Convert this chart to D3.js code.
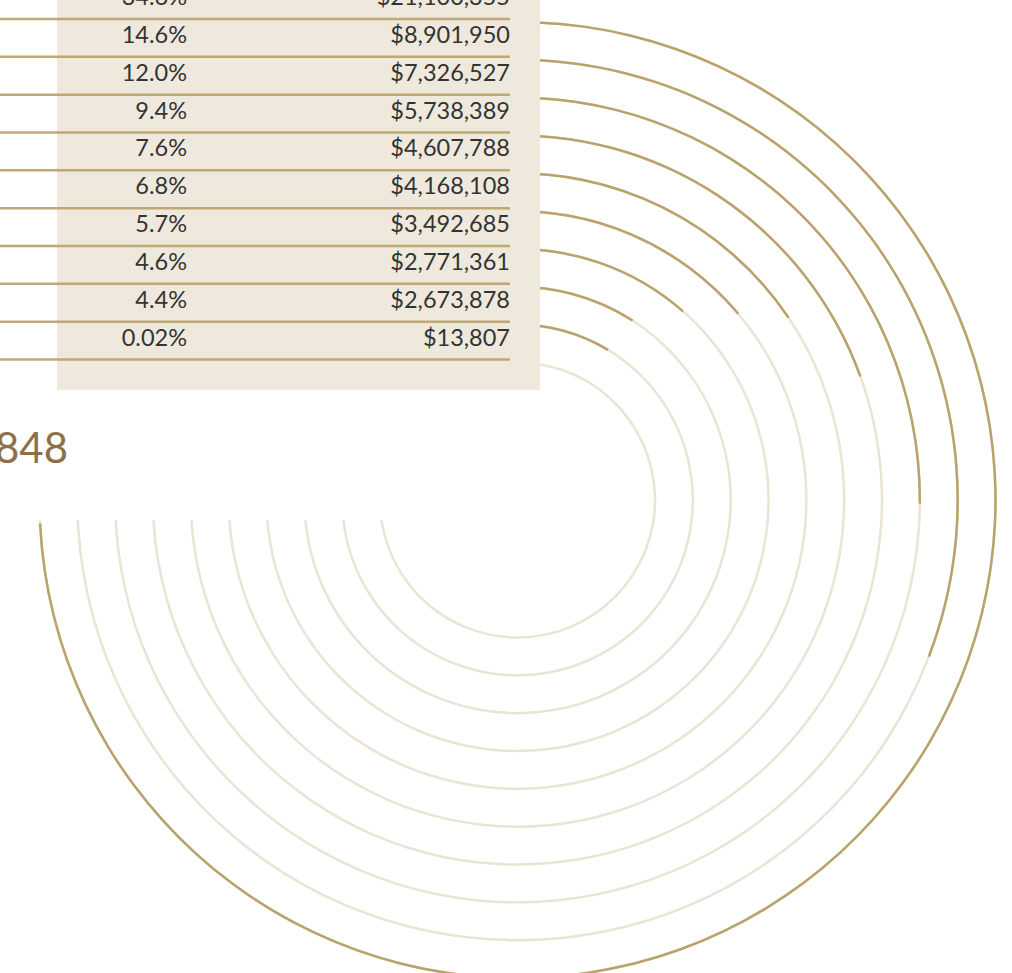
<!DOCTYPE html>
<html>
<head>
<meta charset="utf-8">
<script src="https://cdn.jsdelivr.net/npm/d3@7"></script>
<style>
  html, body { margin: 0; padding: 0; background: #ffffff; overflow: hidden; }
  svg { display: block; }
</style>
</head>
<body>
<div id="chart"></div>
<script>
// Share of the total for each line item, as printed and as numbers
const shareLabels = ["34.6%", "14.6%", "12.0%", "9.4%", "7.6%", "6.8%", "5.7%", "4.6%", "4.4%", "0.02%"];
const shareValues = [34.6, 14.6, 12.0, 9.4, 7.6, 6.8, 5.7, 4.6, 4.4, 0.02];
// Dollar amount for each line item
const amounts = [21100355, 8901950, 7326527, 5738389, 4607788, 4168108, 3492685, 2771361, 2673878, 13807];

const W = 1012, H = 973;
const cx = 517.5, cy = 500;
const deg = Math.PI / 180;

const colors = {
  gold: "#b9a26b",
  rule: "#bfa874",
  track: "#ebe4d5",
  panel: "#efe8dc",
  text: "#333333",
  title: "#8c7148"
};

const svg = d3.select("#chart").append("svg")
  .attr("width", W).attr("height", H);

// One ring per line item, largest on the outside
const ring = d3.scalePoint()
  .domain(d3.range(shareValues.length))
  .range([478, 137.5]);

// Sweep of each ring, clockwise from the top
const angle = d3.scaleLinear()
  .domain([0, d3.max(shareValues)])
  .range([-3.3 * deg, 267.2 * deg]);

const trackEnd = 272 * deg;
const half = 1.25;

const rings = svg.append("g").attr("transform", `translate(${cx},${cy})`);

const trackArc = d3.arc()
  .innerRadius((d, i) => ring(i) - half)
  .outerRadius((d, i) => ring(i) + half)
  .startAngle(angle(0))
  .endAngle(trackEnd);

const valueArc = d3.arc()
  .innerRadius((d, i) => ring(i) - half)
  .outerRadius((d, i) => ring(i) + half)
  .startAngle(angle(0))
  .endAngle(d => angle(d));

rings.selectAll("path.track")
  .data(shareValues)
  .join("path")
  .attr("class", "track")
  .attr("d", (d, i) => trackArc(d, i))
  .attr("fill", colors.track);

rings.selectAll("path.value")
  .data(shareValues)
  .join("path")
  .attr("class", "value")
  .attr("d", (d, i) => valueArc(d, i))
  .attr("fill", colors.gold);

// Upper-left block reserved for the table and the total
svg.append("rect")
  .attr("x", 0).attr("y", 0)
  .attr("width", 540).attr("height", 520)
  .attr("fill", "#ffffff");

svg.append("rect")
  .attr("x", 57).attr("y", -10)
  .attr("width", 483).attr("height", 400)
  .attr("fill", colors.panel);

// Each table row sits on the rule that leads into its ring
const ruleY = i => cy - ring(i) - 3;

const rows = svg.append("g").selectAll("g.row")
  .data(shareValues)
  .join("g")
  .attr("class", "row");

rows.append("line")
  .attr("x1", 0).attr("x2", 510)
  .attr("y1", (d, i) => ruleY(i)).attr("y2", (d, i) => ruleY(i))
  .attr("stroke", colors.rule)
  .attr("stroke-width", 2.5);

rows.append("text")
  .attr("x", 187)
  .attr("y", (d, i) => ruleY(i) - 14)
  .attr("text-anchor", "end")
  .attr("font-family", "Lato, 'Noto Sans', sans-serif")
  .attr("font-size", 23.5)
  .attr("fill", colors.text)
  .text((d, i) => shareLabels[i]);

const fmt = d3.format("$,");
rows.append("text")
  .attr("x", 510)
  .attr("y", (d, i) => ruleY(i) - 14)
  .attr("text-anchor", "end")
  .attr("font-family", "Lato, 'Noto Sans', sans-serif")
  .attr("font-size", 23.5)
  .attr("fill", colors.text)
  .text((d, i) => fmt(amounts[i]));

// Grand total
svg.append("text")
  .attr("x", 68)
  .attr("y", 463)
  .attr("text-anchor", "end")
  .attr("font-family", "Lato, 'Noto Sans', sans-serif")
  .attr("font-size", 42)
  .attr("fill", colors.title)
  .text("Total " + fmt(d3.sum(amounts)));
</script>
</body>
</html>
